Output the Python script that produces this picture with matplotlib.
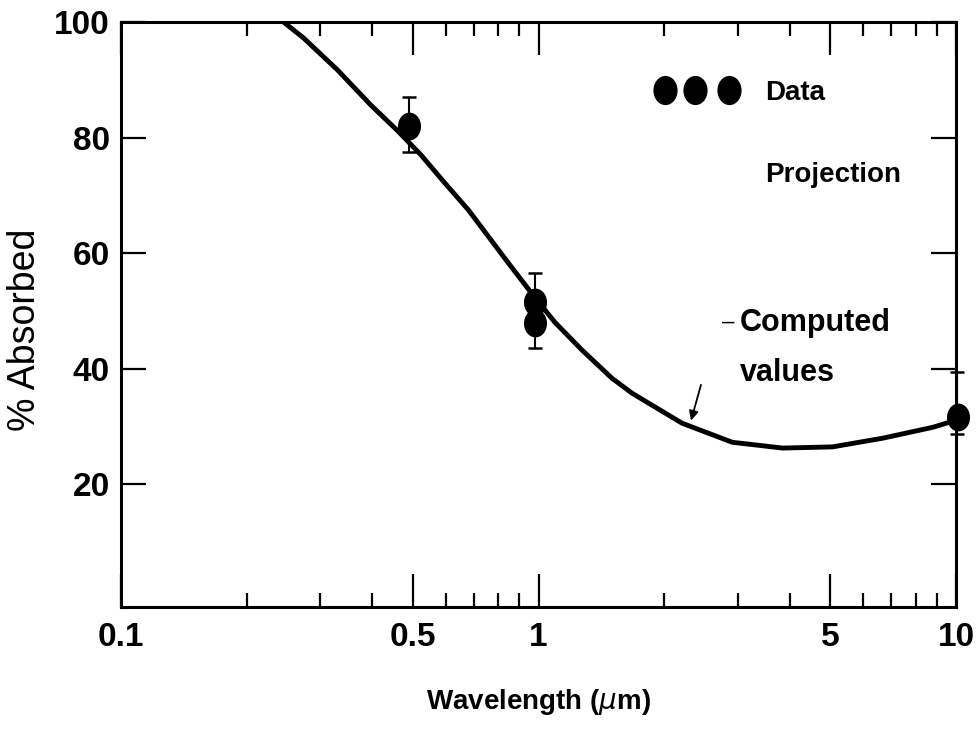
import matplotlib
matplotlib.use("Agg")
import matplotlib.pyplot as plt
import numpy as np
from matplotlib.path import Path
from matplotlib.ticker import FixedLocator, NullFormatter

plt.rcParams['font.family'] = ['Liberation Sans', 'DejaVu Sans']

# Computed curve
curve_wl = [0.245, 0.274, 0.330, 0.397, 0.461, 0.523, 0.594, 0.679,
            0.847, 0.962, 1.093, 1.269, 1.498, 1.674, 2.207, 2.911, 3.84, 5.06,
            6.67, 8.81, 9.68]
curve_abs = [100.0, 97.2, 91.7, 85.6, 81.1, 77.0, 72.3, 67.5,
             58.3, 53.1, 48.1, 43.3, 38.4, 35.8, 30.6, 27.3, 26.3, 26.5,
             28.0, 29.9, 30.8]

# Data points
data_wl = [0.49, 0.98, 0.98, 10.1]
data_abs = [82.0, 51.6, 47.9, 31.7]

# Error bars
bar_wl = [0.49, 0.98, 10.05]
bar_lo = [77.5, 43.6, 28.7]
bar_hi = [87.0, 56.6, 39.4]

xticks = [0.1, 0.5, 1, 5, 10]
xticklabels = ['0.1', '0.5', '1', '5', '10']
xminor = [0.2, 0.3, 0.4, 0.6, 0.7, 0.8, 0.9, 2, 3, 4, 6, 7, 8, 9]
yticks = [20, 40, 60, 80, 100]

fig = plt.figure(figsize=(9.8, 7.31), dpi=100)
ax = fig.add_axes([0.1235, 0.1696, 0.852, 0.8003])
ax.set_xscale('log')
ax.set_xlim(0.1, 10)
ax.set_ylim(-1.2, 100)

ax.plot(curve_wl, curve_abs, color='black', lw=3.5, solid_capstyle='round',
        solid_joinstyle='round', zorder=3)

circ = Path.unit_circle()
ell = Path(circ.vertices * np.array([0.82, 1.0]), circ.codes)

mid = [(a + b) / 2 for a, b in zip(bar_lo, bar_hi)]
yerr = [[m - a for m, a in zip(mid, bar_lo)], [b - m for m, b in zip(mid, bar_hi)]]
ax.errorbar(bar_wl, mid, yerr=yerr, fmt='none', ecolor='black', elinewidth=1.5,
            capsize=5, capthick=1.8, clip_on=False, zorder=4)
ax.plot(data_wl, data_abs, linestyle='none', marker=ell, markersize=19,
        color='black', clip_on=False, zorder=5)

# legend-like annotations
for xf in [0.652, 0.688, 0.728]:
    ax.plot([xf], [0.883], transform=ax.transAxes, marker=ell, markersize=20,
            color='black', linestyle='none', clip_on=False)
ax.text(0.771, 0.878, 'Data', transform=ax.transAxes, fontsize=20,
        fontweight='bold', va='center', ha='left')
ax.text(0.771, 0.739, 'Projection', transform=ax.transAxes, fontsize=20,
        fontweight='bold', va='center', ha='left')

ax.text(3.03, 47.9, 'Computed', fontsize=22, fontweight='bold', va='center', ha='left')
ax.text(3.03, 39.3, 'values', fontsize=22, fontweight='bold', va='center', ha='left')
ax.text(2.75, 48.0, '–', fontsize=16, va='center', ha='left')
ax.annotate('', xy=(2.31, 30.6), xytext=(2.46, 37.7),
            arrowprops=dict(arrowstyle='-|>', color='black', lw=1.3,
                            mutation_scale=14))

# ticks
ax.xaxis.set_major_locator(FixedLocator(xticks))
ax.set_xticklabels(xticklabels)
ax.xaxis.set_minor_locator(FixedLocator(xminor))
ax.xaxis.set_minor_formatter(NullFormatter())
ax.set_yticks(yticks)
ax.set_yticklabels([str(v) for v in yticks])

ax.tick_params(axis='x', which='major', direction='in', length=24, width=1.6,
               top=True, labelsize=24, pad=11)
ax.tick_params(axis='x', which='minor', direction='in', length=10, width=1.6, top=True)
ax.tick_params(axis='y', which='major', direction='in', length=18, width=1.6,
               right=True, labelsize=24, pad=8)
for lab in ax.get_xticklabels() + ax.get_yticklabels():
    lab.set_fontweight('bold')

for s in ax.spines.values():
    s.set_linewidth(2.2)

ax.set_xlabel('Wavelength ($\\mu$m)', fontsize=20, fontweight='bold', labelpad=24)
ax.set_ylabel('% Absorbed', fontsize=27)
ax.yaxis.set_label_coords(-0.094, 0.473)

fig.savefig('out.png', dpi=100)
